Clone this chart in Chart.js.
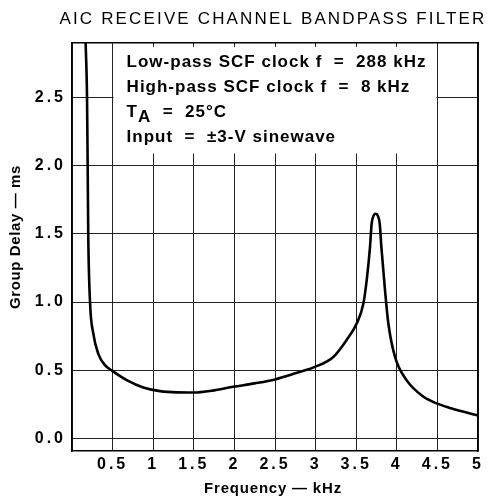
<!DOCTYPE html>
<html>
<head>
<meta charset="utf-8">
<script src="https://cdn.jsdelivr.net/npm/chart.js@4/dist/chart.umd.min.js"></script>
<style>
  html, body { margin: 0; padding: 0; background: #fff; }
  #wrap { width: 493px; height: 500px; position: relative; }
</style>
</head>
<body>
<div id="wrap"><canvas id="c" width="493" height="500"></canvas></div>
<script>
// ---- data ----
const freqKHz = [0.168, 0.185, 0.193, 0.200, 0.222, 0.262, 0.324, 0.406, 0.497, 0.674, 0.878, 1.084, 1.30, 1.49, 1.75, 1.986, 2.25, 2.50, 2.81, 2.993, 3.218, 3.38, 3.506, 3.588, 3.629, 3.67, 3.69, 3.715, 3.74, 3.765, 3.79, 3.81, 3.855, 3.896, 3.978, 4.12, 4.33, 4.49, 4.74, 5.00];
const groupDelayMs = [2.90, 2.50, 2.00, 1.50, 1.00, 0.77, 0.62, 0.537, 0.495, 0.427, 0.373, 0.346, 0.337, 0.336, 0.352, 0.378, 0.403, 0.432, 0.488, 0.524, 0.597, 0.72, 0.842, 0.988, 1.159, 1.403, 1.574, 1.635, 1.647, 1.635, 1.574, 1.403, 1.086, 0.842, 0.597, 0.427, 0.305, 0.256, 0.207, 0.168];
const xTickValues = [0, 0.5, 1, 1.5, 2, 2.5, 3, 3.5, 4, 4.5, 5];
const xTickLabels = ['', '0.5', '1', '1.5', '2', '2.5', '3', '3.5', '4', '4.5', '5'];
const yTickValues = [0, 0.5, 1, 1.5, 2, 2.5];
const yTickLabels = ['0.0', '0.5', '1.0', '1.5', '2.0', '2.5'];
const chartTitle = 'AIC RECEIVE CHANNEL BANDPASS FILTER';
const xAxisTitle = 'Frequency \u2014 kHz';
const yAxisTitle = 'Group Delay \u2014 ms';
const noteLines = ['Low-pass SCF clock f  =  288 kHz', 'High-pass SCF clock f  =  8 kHz', 'T|A|  =  25\u00B0C', 'Input  =  \u00B13-V sinewave'];

const FONT = '"Liberation Sans", Arial, Helvetica, sans-serif';
const points = freqKHz.map((f, i) => ({ x: f, y: groupDelayMs[i] }));

const decorPlugin = {
  id: 'decor',
  beforeDraw(chart) {
    chart.ctx.letterSpacing = '3px';
  },
  beforeDatasetsDraw(chart) {
    const { ctx, chartArea, scales } = chart;
    const x = scales.x, y = scales.y;
    // white panel behind the condition notes
    const left = x.getPixelForValue(0.5) + 1;
    const right = x.getPixelForValue(4.5) - 1;
    const top = chartArea.top + 4;
    const bottom = y.getPixelForValue(2.09);
    ctx.save();
    ctx.fillStyle = '#fff';
    ctx.fillRect(left, top, right - left, bottom - top);
    ctx.restore();
  },
  afterDraw(chart) {
    const { ctx, scales } = chart;
    const x = scales.x;
    ctx.save();
    ctx.fillStyle = '#000';
    // title
    ctx.font = '17px ' + FONT;
    ctx.textAlign = 'center';
    ctx.textBaseline = 'middle';
    ctx.letterSpacing = '2.15px';
    ctx.fillText(chartTitle, 273, 19);
    // axis titles
    ctx.font = 'bold 15px ' + FONT;
    ctx.letterSpacing = '0.8px';
    ctx.fillText(xAxisTitle, 273, 489);
    ctx.letterSpacing = '0.6px';
    ctx.save();
    ctx.translate(16, 237);
    ctx.rotate(-Math.PI / 2);
    ctx.fillText(yAxisTitle, 0, 0);
    ctx.restore();
    // notes
    ctx.font = 'bold 17px ' + FONT;
    ctx.letterSpacing = '1px';
    ctx.textAlign = 'left';
    ctx.textBaseline = 'alphabetic';
    const tx = x.getPixelForValue(0.5) + 14;
    const baselines = [67, 92, 116.5, 141.5];
    noteLines.forEach((line, i) => {
      const parts = line.split('|');
      let cx = tx;
      parts.forEach((p, j) => {
        const dy = (j === 1) ? 5 : 0;
        ctx.fillText(p, cx, baselines[i] + dy);
        cx += ctx.measureText(p).width;
      });
    });
    ctx.restore();
    ctx.letterSpacing = '0px';
  }
};

new Chart(document.getElementById('c'), {
  type: 'line',
  data: {
    datasets: [{
      data: points,
      borderColor: '#000',
      borderWidth: 2.6,
      pointRadius: 0,
      fill: false,
      cubicInterpolationMode: 'monotone'
    }]
  },
  options: {
    responsive: false,
    animation: false,
    layout: { padding: { top: 43, right: 15, left: 0, bottom: 0 } },
    plugins: { legend: { display: false }, title: { display: false }, tooltip: { enabled: false } },
    scales: {
      x: {
        type: 'linear', min: 0, max: 5,
        afterBuildTicks(s) { s.ticks = xTickValues.map(v => ({ value: v })); },
        afterFit(s) { s.height = 49; },
        grid: { color: '#222', lineWidth: 1, drawTicks: false },
        border: { color: '#000', width: 1.5 },
        ticks: {
          color: '#000', padding: 4, maxRotation: 0, autoSkip: false,
          font: { family: FONT, size: 16, weight: 'bold' },
          callback(v) { const i = xTickValues.indexOf(v); return i >= 0 ? xTickLabels[i] : ''; }
        },
        title: { display: false }
      },
      y: {
        type: 'linear', min: -0.093, max: 2.9,
        afterBuildTicks(s) { s.ticks = yTickValues.map(v => ({ value: v })); },
        afterFit(s) { s.width = 72; },
        grid: { color: '#222', lineWidth: 1, drawTicks: false },
        border: { color: '#000', width: 1.5 },
        ticks: {
          color: '#000', padding: 6,
          font: { family: FONT, size: 16, weight: 'bold' },
          callback(v) { const i = yTickValues.indexOf(v); return i >= 0 ? yTickLabels[i] : ''; }
        },
        title: { display: false }
      },
      x2: {
        type: 'linear', position: 'top', min: 0, max: 5, display: true,
        afterFit(s) { s.height = 0; },
        grid: { display: false, drawTicks: false },
        border: { color: '#000', width: 1.5 },
        ticks: { display: false }
      },
      y2: {
        type: 'linear', position: 'right', min: -0.093, max: 2.9, display: true,
        afterFit(s) { s.width = 0; },
        grid: { display: false, drawTicks: false },
        border: { color: '#000', width: 1.5 },
        ticks: { display: false }
      }
    }
  },
  plugins: [decorPlugin]
});
</script>
</body>
</html>
